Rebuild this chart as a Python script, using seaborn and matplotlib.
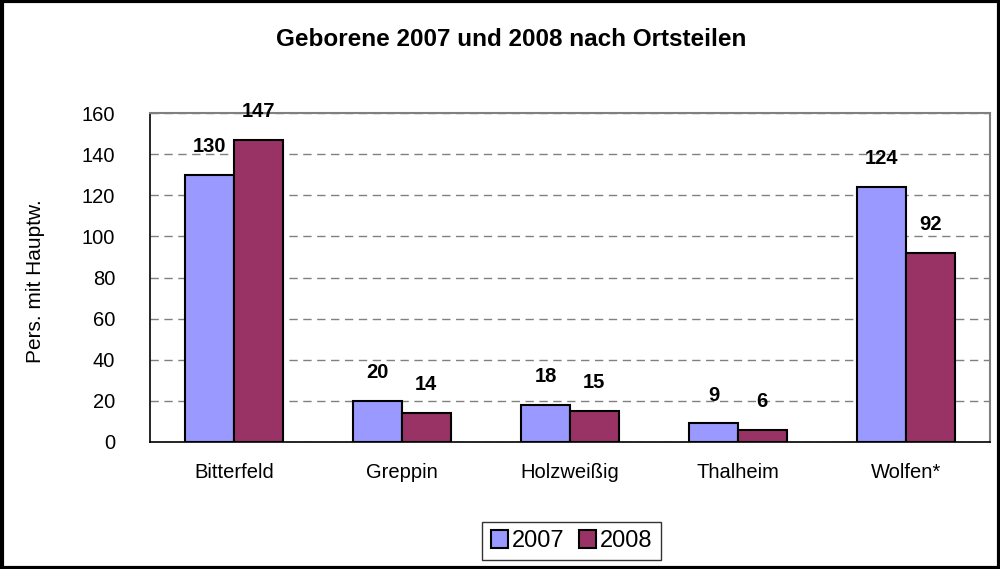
import matplotlib
matplotlib.use('Agg')
import matplotlib.pyplot as plt
import seaborn as sns
import pandas as pd
from matplotlib.patches import Rectangle

# Daten
ortsteile = ['Bitterfeld', 'Greppin', 'Holzweißig', 'Thalheim', 'Wolfen*']
jahre = ['2007', '2008']
geborene_2007 = [130, 20, 18, 9, 124]
geborene_2008 = [147, 14, 15, 6, 92]
farben = {'2007': '#9999FF', '2008': '#993366'}

df = pd.DataFrame({
    'Ortsteil': ortsteile * 2,
    'Jahr': ['2007'] * len(ortsteile) + ['2008'] * len(ortsteile),
    'Anzahl': geborene_2007 + geborene_2008,
})

sns.set_style('white')
plt.rcParams['font.family'] = ['Liberation Sans', 'DejaVu Sans']
plt.rcParams['text.color'] = 'black'
plt.rcParams['axes.labelcolor'] = 'black'
plt.rcParams['xtick.color'] = 'black'
plt.rcParams['ytick.color'] = 'black'

fig = plt.figure(figsize=(10, 5.69), dpi=100)
ax = fig.add_axes([0.15, 0.2232, 0.84, 0.578])

sns.barplot(data=df, x='Ortsteil', y='Anzahl', hue='Jahr', hue_order=jahre,
            palette=farben, width=0.58, gap=0, edgecolor='black', linewidth=1.5,
            saturation=1, legend=False, ax=ax)

for cont in ax.containers:
    ax.bar_label(cont, padding=13.5, fontsize=14.5, fontweight='bold', color='black')

ax.set_ylim(0, 160)
ax.set_xlim(-0.5, len(ortsteile) - 0.5)
ax.set_yticks(range(0, 161, 20))
ax.yaxis.grid(True, linestyle=(0, (6, 4)), color='#808080', linewidth=1)
ax.set_axisbelow(True)

# Kategorie-Trennstriche unten
ax.set_xticks([i - 0.5 for i in range(len(ortsteile) + 1)], minor=True)
ax.tick_params(axis='x', which='major', length=0, pad=15, labelsize=14.5)
ax.tick_params(axis='x', which='minor', length=6, width=1, color='black', direction='out')
ax.tick_params(axis='y', length=5, width=1, color='black', direction='out',
               labelsize=14.5, pad=20)

for s in ['left', 'bottom']:
    ax.spines[s].set_color('black')
    ax.spines[s].set_linewidth(1.2)
for s in ['top', 'right']:
    ax.spines[s].set_color('#808080')
    ax.spines[s].set_linewidth(1.5)

ax.set_xlabel('')
ax.set_ylabel('Pers. mit Hauptw.', fontsize=15)
ax.yaxis.set_label_coords(-0.125, 0.49)

fig.text(0.511, 1 - 39 / 569, 'Geborene 2007 und 2008 nach Ortsteilen',
         ha='center', va='center', fontsize=17.5, fontweight='bold')

handles = [Rectangle((0, 0), 1, 1, facecolor=farben[j], edgecolor='black', linewidth=1.5)
           for j in jahre]
leg = fig.legend(handles, jahre, loc='center', bbox_to_anchor=(0.5715, 0.049),
                 ncol=2, fontsize=17, frameon=True, fancybox=False,
                 handlelength=0.75, handleheight=0.75, handletextpad=0.15,
                 columnspacing=0.6, borderpad=0.35)
leg.get_frame().set_edgecolor('black')
leg.get_frame().set_linewidth(1)

fig.patches.append(Rectangle((0.0015, 0.0025), 0.997, 0.995, transform=fig.transFigure,
                             fill=False, edgecolor='black', linewidth=3))

fig.savefig('out.png', dpi=100)
